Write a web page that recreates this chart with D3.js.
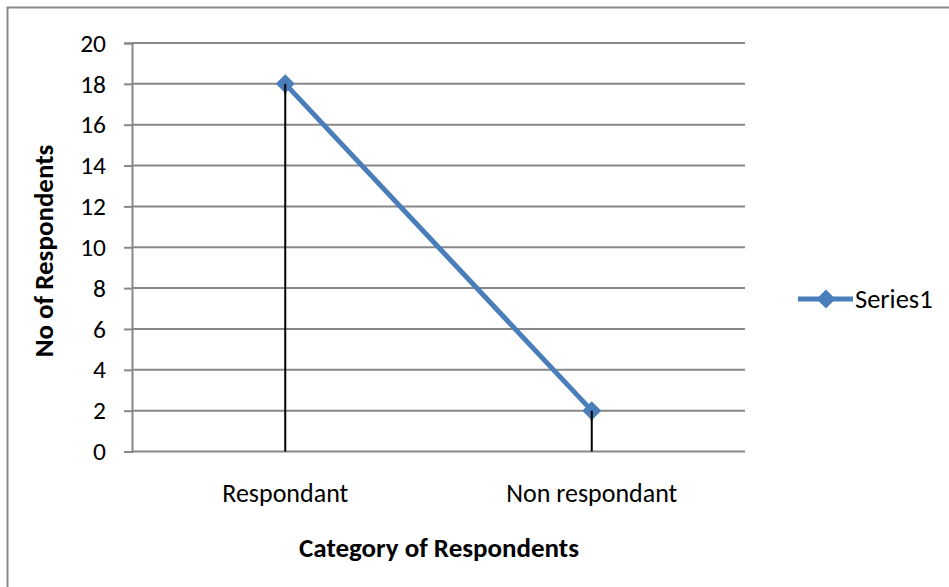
<!DOCTYPE html>
<html>
<head>
<meta charset="utf-8">
<script src="https://cdn.jsdelivr.net/npm/d3@7"></script>
<style>
  body { margin: 0; background: #fff; }
  text { font-family: Carlito, Lato, "Liberation Sans Narrow", sans-serif; fill: #000; }
</style>
</head>
<body>
<svg id="chart" width="949" height="587"></svg>
<script>
// Chart data
const categories = ["Respondant", "Non respondant"];
const seriesName = "Series1";
const seriesValues = [18, 2];
const yTicks = [0, 2, 4, 6, 8, 10, 12, 14, 16, 18, 20];
const xTitle = "Category of Respondents";
const yTitle = "No of Respondents";

const svg = d3.select("#chart");
const W = 949, H = 587;
const plot = { left: 132, right: 745, top: 43, bottom: 451.5 };
const FS = 25.5;   // tick / legend text
const TFS = 27;    // axis titles

// Outer chart frame (runs off the bottom/right edge)
svg.append("rect")
  .attr("x", 7.5).attr("y", 7.5)
  .attr("width", W + 10).attr("height", H + 10)
  .attr("fill", "none").attr("stroke", "#888").attr("stroke-width", 2);

const x = d3.scaleBand().domain(categories).range([plot.left, plot.right]);
const y = d3.scaleLinear().domain([0, 20]).range([plot.bottom, plot.top]);

// Horizontal gridlines with left tick stubs
const yAxis = d3.axisLeft(y).tickValues(yTicks).tickSize(8).tickPadding(18);
const gy = svg.append("g").attr("transform", `translate(${plot.left},0)`).call(yAxis);
gy.attr("font-size", null).attr("font-family", null);
gy.select(".domain").attr("stroke", "#888").attr("stroke-width", 2);
gy.selectAll(".tick line").attr("stroke", "#888").attr("stroke-width", 2);
gy.selectAll(".tick text").attr("font-size", FS).attr("fill", "#000");
svg.append("g").selectAll("line").data(yTicks).join("line")
  .attr("x1", plot.left).attr("x2", plot.right)
  .attr("y1", d => y(d)).attr("y2", d => y(d))
  .attr("stroke", "#888").attr("stroke-width", 2);

// Category labels
const xAxis = d3.axisBottom(x).tickSize(0).tickPadding(50);
const gx = svg.append("g").attr("transform", `translate(0,${plot.bottom})`).call(xAxis);
gx.attr("font-size", null).attr("font-family", null);
gx.select(".domain").remove();
gx.selectAll(".tick text").attr("font-size", FS + 0.5).attr("fill", "#000").attr("dy", "0");

const cx = d => x(d) + x.bandwidth() / 2;

// Drop lines from each point to the baseline
svg.append("g").selectAll("line").data(categories).join("line")
  .attr("x1", cx).attr("x2", cx)
  .attr("y1", (d, i) => y(seriesValues[i])).attr("y2", y(0))
  .attr("stroke", "#000").attr("stroke-width", 2);

// Series line
const blue = "#4A7EBB";
const line = d3.line().x((d, i) => cx(categories[i])).y(d => y(d));
svg.append("path").datum(seriesValues)
  .attr("d", line).attr("fill", "none")
  .attr("stroke", blue).attr("stroke-width", 5);

// Diamond markers
const diamond = d3.symbol().type(d3.symbolSquare).size(180);
svg.append("g").selectAll("path").data(seriesValues).join("path")
  .attr("d", diamond)
  .attr("transform", (d, i) => `translate(${cx(categories[i])},${y(d)}) rotate(45)`)
  .attr("fill", blue);

// Redraw drop-line tops over the markers
svg.append("g").selectAll("line").data(categories).join("line")
  .attr("x1", cx).attr("x2", cx)
  .attr("y1", (d, i) => y(seriesValues[i])).attr("y2", (d, i) => y(seriesValues[i]) + 10)
  .attr("stroke", "#000").attr("stroke-width", 2);

// Axis titles
svg.append("text")
  .attr("x", 439).attr("y", 557)
  .attr("text-anchor", "middle").attr("font-size", TFS).attr("font-weight", "bold")
  .text(xTitle);
svg.append("text")
  .attr("transform", `translate(53,251) rotate(-90)`)
  .attr("text-anchor", "middle").attr("font-size", TFS).attr("font-weight", "bold")
  .text(yTitle);

// Legend
const lg = svg.append("g").attr("transform", "translate(798,299)");
lg.append("line").attr("x1", 0).attr("x2", 55).attr("y1", 0).attr("y2", 0)
  .attr("stroke", blue).attr("stroke-width", 5);
lg.append("path").attr("d", diamond).attr("transform", "translate(28,0) rotate(45)").attr("fill", blue);
lg.append("text").attr("x", 57).attr("y", 9).attr("font-size", FS + 1).text(seriesName);
</script>
</body>
</html>
